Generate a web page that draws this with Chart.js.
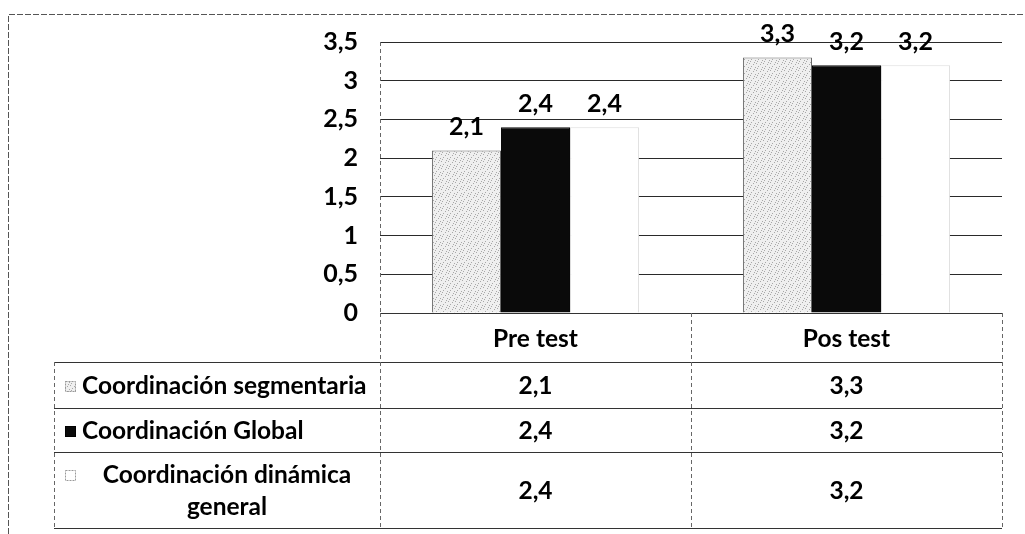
<!DOCTYPE html>
<html lang="es">
<head>
    <meta charset="UTF-8">
    <title>Coordinación</title>
    <script src="https://cdn.jsdelivr.net/npm/chart.js"></script>
    <style>
        body { margin: 0; background: #fff; }
        #wrap { width: 1025px; height: 534px; }
    </style>
</head>
<body>
    <div id="wrap"><canvas id="chart" width="1025" height="534"></canvas></div>

    <script>
        // datos
        const categorias = ['Pre test', 'Pos test'];
        const series = ['Coordinación segmentaria', 'Coordinación Global', 'Coordinación dinámica general'];
        const segmentaria = [2.1, 3.3];
        const global = [2.4, 3.2];
        const dinamica = [2.4, 3.2];
        const ticksY = [0, 0.5, 1, 1.5, 2, 2.5, 3, 3.5];

        const FONT = 'Lato, "Open Sans", sans-serif';
        const coma = v => String(v).replace('.', ',');

        // textura punteada gris clara (fija, no aleatoria)
        function punteado() {
            const c = document.createElement('canvas');
            c.width = 7; c.height = 7;
            const g = c.getContext('2d');
            g.fillStyle = '#efefef';
            g.fillRect(0, 0, 7, 7);
            g.fillStyle = '#a8a8a8';
            [[0,0],[4,1],[2,3],[6,4],[1,5],[5,6]].forEach(p => g.fillRect(p[0], p[1], 1, 1));
            return g.createPattern(c, 'repeat');
        }

        const ctx = document.getElementById('chart').getContext('2d');
        const relleno = [punteado(), '#0a0a0a', '#ffffff'];
        const bordes = ['#666666', '#0a0a0a', '#dddddd'];

        // marco exterior y eje vertical punteado
        const marco = {
            id: 'marco',
            beforeDraw(chart) {
                const c = chart.ctx;
                c.save();
                c.strokeStyle = '#555';
                c.lineWidth = 1;
                c.setLineDash([6, 2]);
                c.beginPath();
                c.moveTo(8.5, 534);
                c.lineTo(8.5, 14.5);
                c.lineTo(1025, 14.5);
                c.stroke();
                c.restore();
            },
            afterDatasetsDraw(chart) {
                const c = chart.ctx;
                const a = chart.chartArea;
                c.save();
                c.strokeStyle = '#666';
                c.setLineDash([4, 3]);
                c.beginPath();
                c.moveTo(Math.round(a.left) + 0.5, a.top);
                c.lineTo(Math.round(a.left) + 0.5, a.bottom);
                c.stroke();
                c.restore();
            }
        };

        // etiquetas encima de las barras
        const etiquetas = {
            id: 'etiquetas',
            afterDatasetsDraw(chart) {
                const c = chart.ctx;
                c.save();
                c.font = 'bold 25px ' + FONT;
                c.fillStyle = '#000';
                c.textAlign = 'center';
                c.textBaseline = 'alphabetic';
                chart.data.datasets.forEach((ds, i) => {
                    chart.getDatasetMeta(i).data.forEach((bar, j) => {
                        c.fillText(coma(ds.data[j]), bar.x, bar.y - 15);
                    });
                });
                c.restore();
            }
        };

        // tabla de datos bajo el eje
        const tabla = {
            id: 'tabla',
            afterDraw(chart) {
                const c = chart.ctx;
                const a = chart.chartArea;
                const x = chart.scales.x;
                const izq = 54;
                const filas = [a.bottom, 362, 408, 452, 528];
                const medio = (a.left + a.right) / 2;
                c.save();
                c.strokeStyle = '#333';
                c.lineWidth = 1;
                c.beginPath();
                filas.forEach((y, k) => {
                    c.moveTo(k === 0 ? a.left : izq, Math.round(y) + 0.5);
                    c.lineTo(a.right, Math.round(y) + 0.5);
                });
                c.stroke();
                c.strokeStyle = '#666';
                c.setLineDash([4, 3]);
                c.beginPath();
                [a.left, medio, a.right].forEach(vx => {
                    c.moveTo(Math.round(vx) + 0.5, a.bottom);
                    c.lineTo(Math.round(vx) + 0.5, filas[4]);
                });
                c.moveTo(izq + 0.5, filas[1]);
                c.lineTo(izq + 0.5, filas[4]);
                c.stroke();
                c.setLineDash([]);

                // tamaño de letra ajustado al ancho de la columna
                let tam = 22;
                c.font = 'bold ' + tam + 'px ' + FONT;
                tam = tam * 284 / c.measureText(series[0]).width;
                c.font = 'bold ' + tam.toFixed(1) + 'px ' + FONT;

                c.fillStyle = '#000';
                c.textAlign = 'center';
                c.textBaseline = 'middle';
                categorias.forEach((cat, j) => {
                    c.fillText(cat, x.getPixelForValue(j), (filas[0] + filas[1]) / 2 + 2);
                });

                const valores = [segmentaria, global, dinamica];
                series.forEach((nombre, i) => {
                    const y0 = filas[i + 1], y1 = filas[i + 2];
                    const ym = (y0 + y1) / 2 + 1;
                    valores[i].forEach((v, j) => {
                        c.textAlign = 'center';
                        c.fillText(coma(v), x.getPixelForValue(j), ym);
                    });
                    const yTxt = i === 2 ? ym - 16 : ym;
                    // cuadrito de leyenda
                    c.fillStyle = relleno[i];
                    c.fillRect(65, Math.round(yTxt) - 5, 11, 11);
                    c.strokeStyle = i === 1 ? '#000' : '#999';
                    c.setLineDash(i === 1 ? [] : [2, 1]);
                    c.strokeRect(65.5, Math.round(yTxt) - 4.5, 10, 10);
                    c.setLineDash([]);
                    c.fillStyle = '#000';
                    if (i === 2) {
                        const centro = (82 + 372) / 2;
                        c.textAlign = 'center';
                        c.fillText('Coordinación dinámica', centro, ym - 16);
                        c.fillText('general', centro, ym + 16);
                    } else {
                        c.textAlign = 'left';
                        c.fillText(nombre, 82, ym);
                    }
                });
                c.restore();
            }
        };

        new Chart(ctx, {
            type: 'bar',
            data: {
                labels: categorias,
                datasets: [
                    { label: series[0], data: segmentaria, backgroundColor: relleno[0], borderColor: bordes[0], borderWidth: 1 },
                    { label: series[1], data: global, backgroundColor: relleno[1], borderColor: bordes[1], borderWidth: 1 },
                    { label: series[2], data: dinamica, backgroundColor: relleno[2], borderColor: bordes[2], borderWidth: 1 }
                ]
            },
            options: {
                responsive: false,
                animation: false,
                layout: { padding: { top: 42, right: 23, bottom: 221, left: 0 } },
                plugins: {
                    legend: { display: false },
                    tooltip: { enabled: false }
                },
                datasets: {
                    bar: { categoryPercentage: 0.666, barPercentage: 1.0 }
                },
                scales: {
                    x: { display: false },
                    y: {
                        min: 0,
                        max: 3.5,
                        afterFit(scale) { scale.width = 380; },
                        afterBuildTicks(scale) { scale.ticks = ticksY.map(v => ({ value: v })); },
                        ticks: {
                            padding: 22,
                            color: '#000',
                            font: { family: FONT, size: 25, weight: 'bold' },
                            callback: v => coma(v)
                        },
                        grid: { color: '#2a2a2a', drawTicks: false, lineWidth: 1 },
                        border: { display: false }
                    }
                }
            },
            plugins: [marco, etiquetas, tabla]
        });
    </script>
</body>
</html>
